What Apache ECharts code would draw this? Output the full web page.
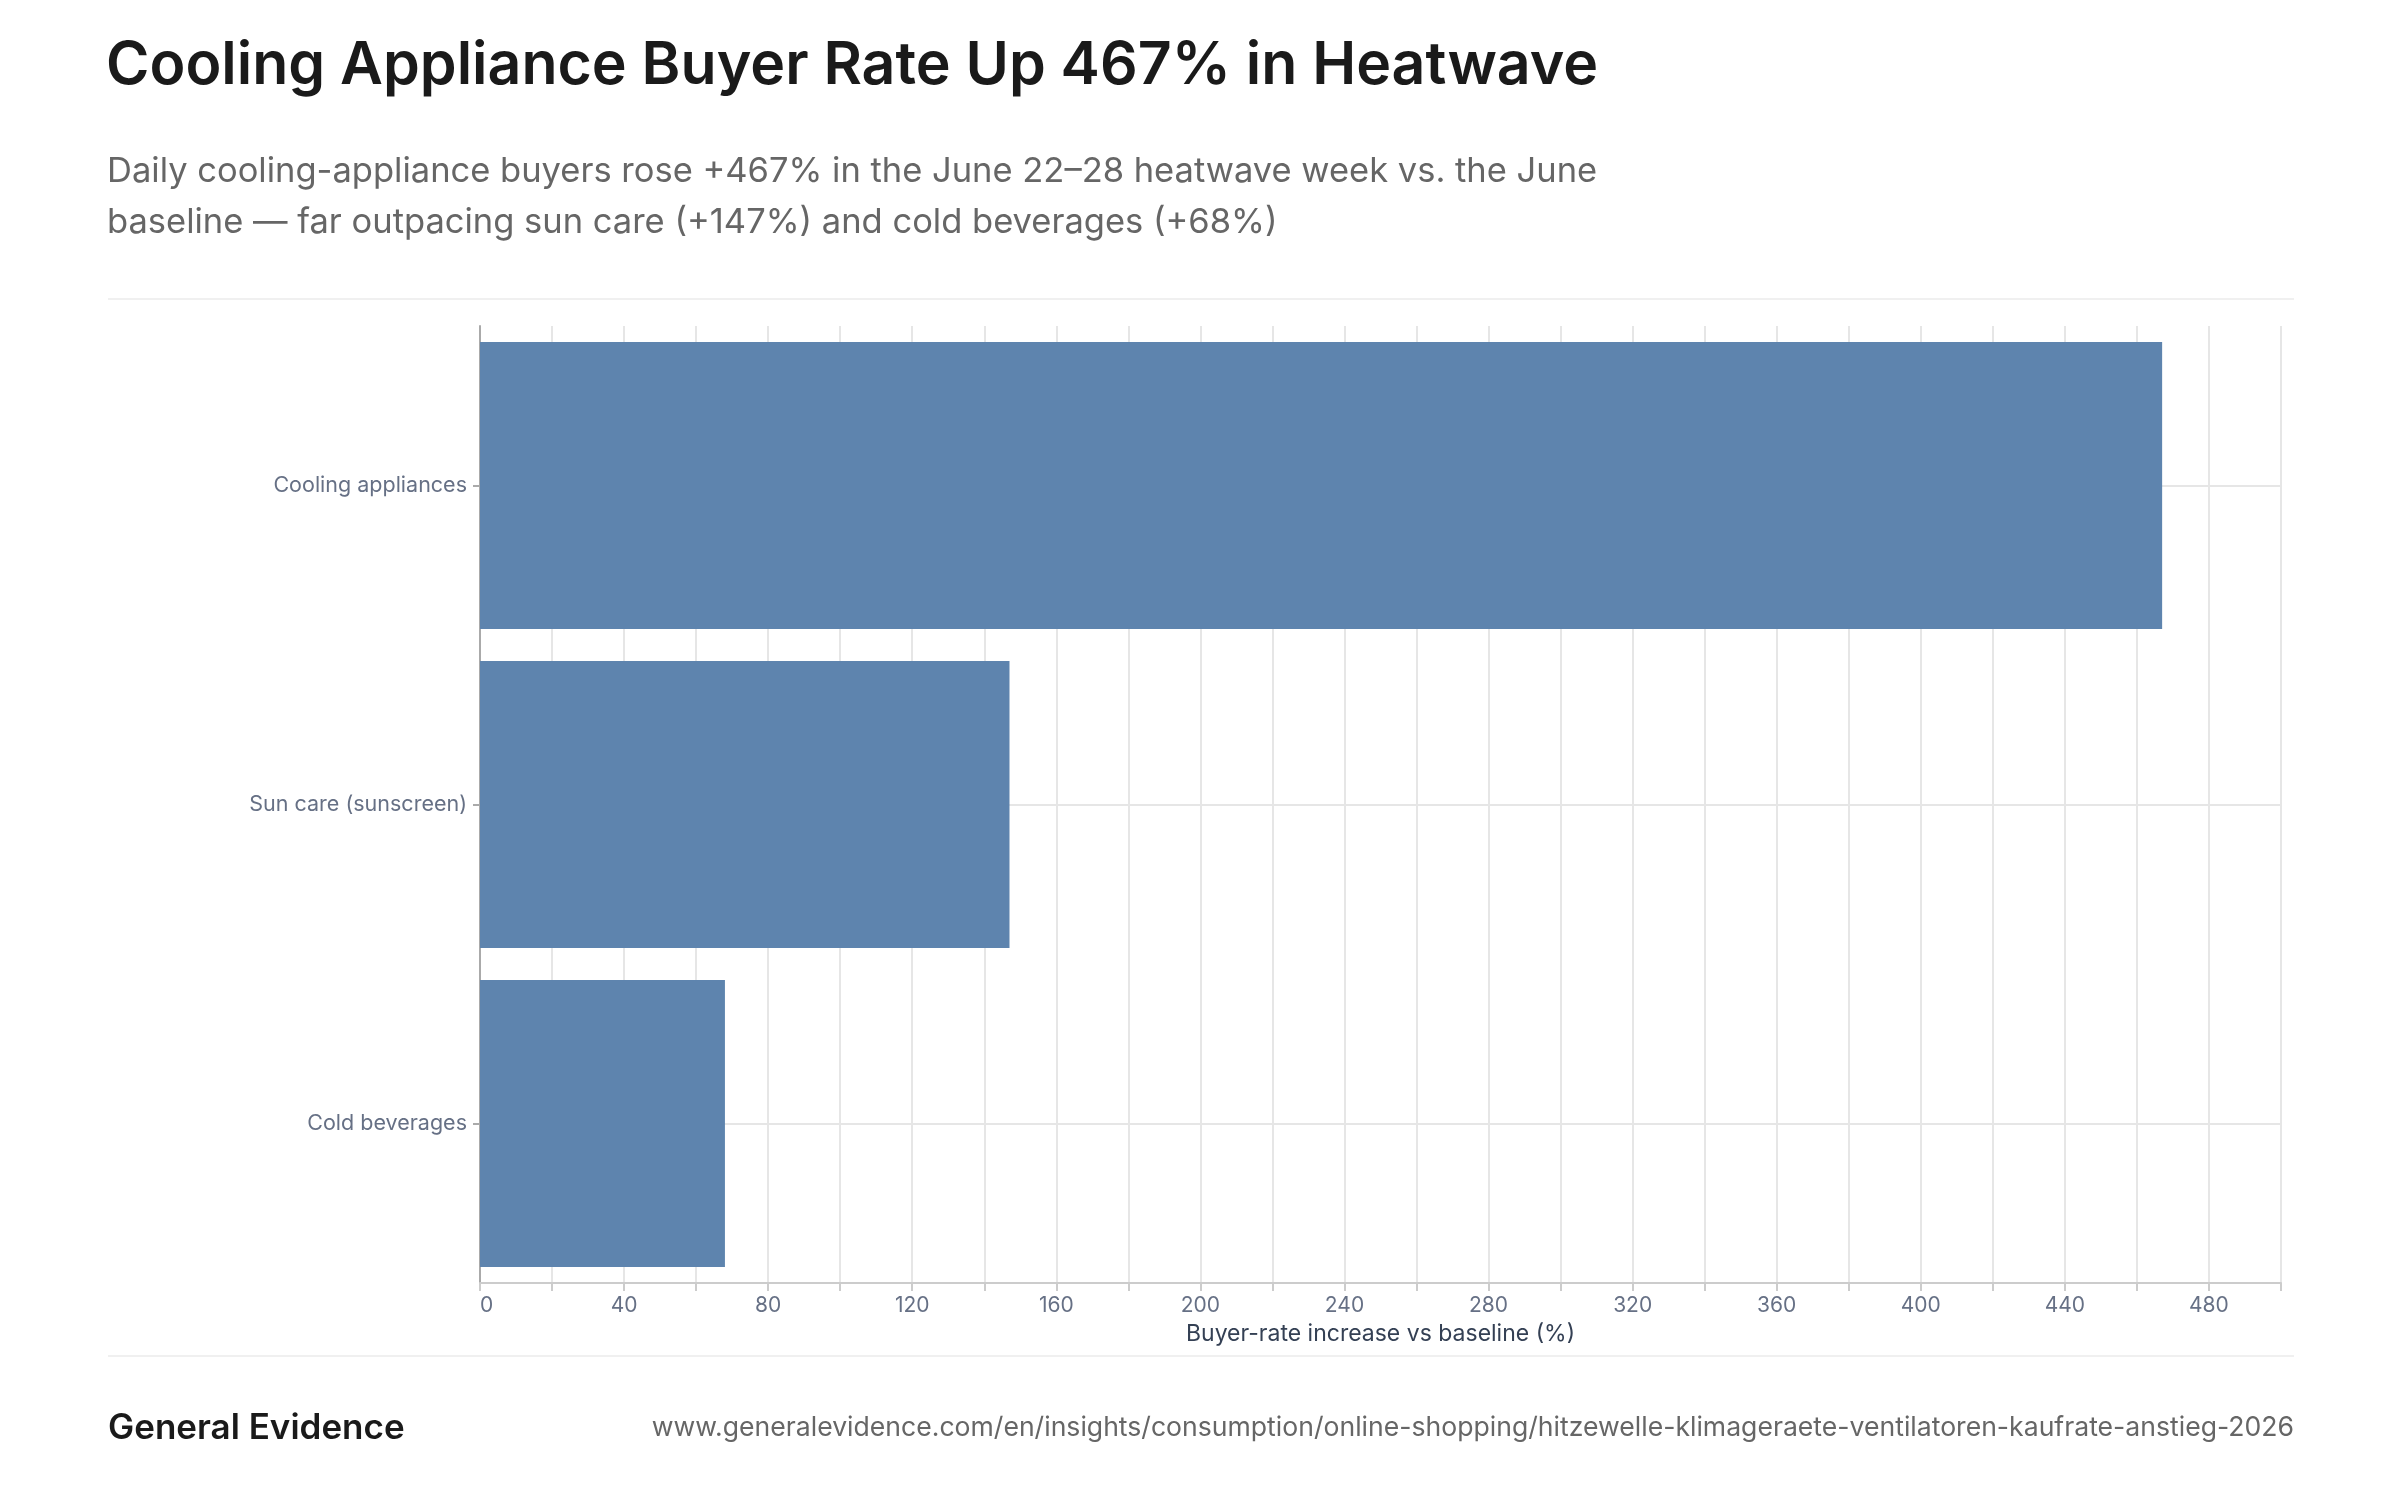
<!DOCTYPE html>
<html lang="en">
<head>
    <meta charset="UTF-8">
    <title>Cooling Appliance Buyer Rate</title>
    <script src="https://cdn.jsdelivr.net/npm/echarts@6/dist/echarts.min.js"></script>
    <style>
        html, body { margin: 0; padding: 0; background: #fff; }
        #main { width: 2400px; height: 1500px; }
    </style>
</head>
<body>
<div id="main"></div>

<script type="text/javascript">

    // data
    const categories = ['Cooling appliances', 'Sun care (sunscreen)', 'Cold beverages']
    const increase = [467, 147, 68]
    const axisMax = 500

    const titleText = 'Cooling Appliance Buyer Rate Up 467% in Heatwave'
    const subtitleText = 'Daily cooling-appliance buyers rose +467% in the June 22\u201328 heatwave week vs. the June\nbaseline \u2014 far outpacing sun care (+147%) and cold beverages (+68%)'
    const axisTitle = 'Buyer-rate increase vs baseline (%)'
    const brand = 'General Evidence'
    const sourceUrl = 'www.generalevidence.com/en/insights/consumption/online-shopping/hitzewelle-klimageraete-ventilatoren-kaufrate-anstieg-2026'

    const FONT = 'Inter, "Noto Sans", sans-serif'

    let chart = echarts.init(document.getElementById('main'), null, {renderer: 'canvas'})

    chart.setOption({
        backgroundColor: '#ffffff',
        animation: false,
        textStyle: { fontFamily: FONT },
        title: [{
            text: titleText,
            left: 106,
            top: 37,
            padding: 0,
            textStyle: { fontSize: 59, fontWeight: 600, color: '#1a1a1a', fontFamily: FONT }
        }, {
            text: subtitleText,
            left: 107,
            top: 146,
            padding: 0,
            textStyle: { fontSize: 34.5, fontWeight: 400, color: '#666666', lineHeight: 51, fontFamily: FONT }
        }],
        grid: {
            left: 480,
            right: 119,
            top: 326,
            bottom: 217,
            containLabel: false
        },
        xAxis: {
            type: 'value',
            min: 0,
            max: axisMax,
            interval: 20,
            name: axisTitle,
            nameLocation: 'middle',
            nameGap: 40,
            nameTextStyle: { fontSize: 23, color: '#344054', fontFamily: FONT },
            axisLine: { show: true, lineStyle: { color: '#cccccc', width: 2 } },
            axisTick: { show: true, length: 8, lineStyle: { color: '#cccccc', width: 2 } },
            axisLabel: {
                fontSize: 21,
                color: '#667085',
                margin: 12,
                alignMinLabel: 'left',
                formatter: v => (v % 40 === 0 && v < axisMax) ? String(v) : ''
            },
            splitLine: { show: true, lineStyle: { color: '#e6e6e6', width: 2 } }
        },
        yAxis: {
            type: 'category',
            data: categories,
            inverse: true,
            axisLine: { show: true, lineStyle: { color: '#aaaaaa', width: 2 } },
            axisTick: { show: true, alignWithLabel: true, length: 7, lineStyle: { color: '#aaaaaa', width: 2 } },
            axisLabel: { fontSize: 21.5, color: '#667085', margin: 13 },
            splitLine: { show: true, alignWithLabel: true, lineStyle: { color: '#e6e6e6', width: 2 } }
        },
        series: [{
            type: 'bar',
            data: increase,
            barCategoryGap: '10%',
            itemStyle: { color: '#5e84ae' }
        }],
        graphic: [
            { type: 'rect', shape: { x: 108, y: 298, width: 2186, height: 2 }, style: { fill: '#f0f0f0' }, silent: true },
            { type: 'rect', shape: { x: 108, y: 1355, width: 2186, height: 2 }, style: { fill: '#f0f0f0' }, silent: true },
            { type: 'text', x: 108, y: 1428, style: { text: brand, font: '600 35px ' + FONT, fill: '#1a1a1a', textAlign: 'left', textVerticalAlign: 'middle' }, silent: true },
            { type: 'text', x: 2294, y: 1428, style: { text: sourceUrl, font: '400 26.6px ' + FONT, fill: '#666666', textAlign: 'right', textVerticalAlign: 'middle' }, silent: true }
        ]
    })

</script>
</body>
</html>
